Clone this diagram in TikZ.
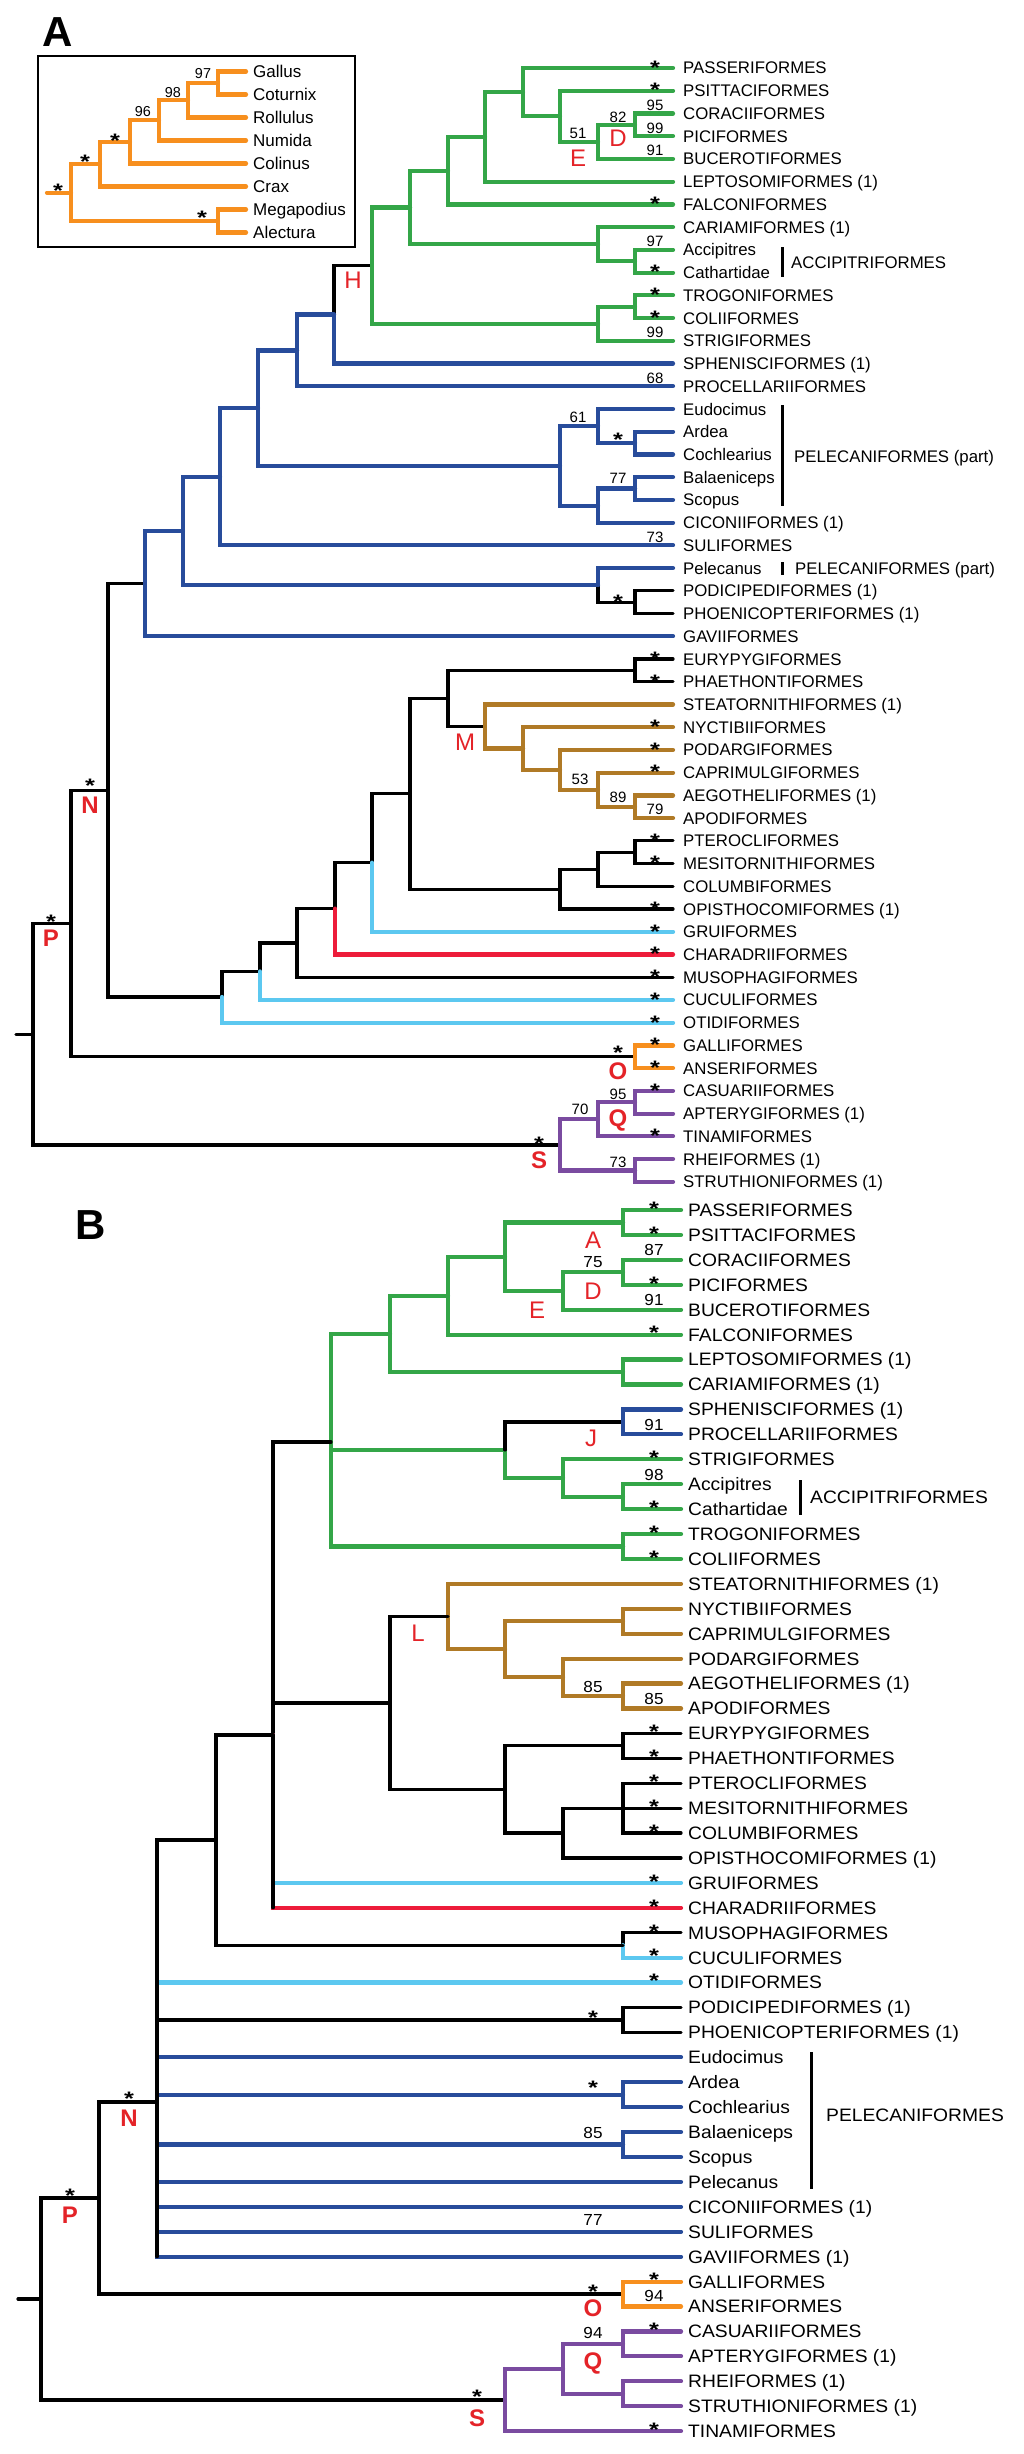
\documentclass[tikz,border=0pt]{standalone}
\usepackage{fontspec}
\setmainfont{Liberation Sans}
\newfontfamily\widefont[FakeStretch=1.07]{Liberation Sans}
\newfontfamily\astfam[FakeStretch=1.3]{Liberation Sans}

\definecolor{cgreen}{RGB}{52,166,72}
\definecolor{cblue}{RGB}{40,76,155}
\definecolor{corange}{RGB}{247,143,30}
\definecolor{cbrown}{RGB}{176,122,38}
\definecolor{clight}{RGB}{92,200,240}
\definecolor{cred}{RGB}{237,28,58}
\definecolor{cpurple}{RGB}{122,75,160}
\definecolor{labred}{RGB}{228,35,40}

\newcommand{\labA}{\fontsize{16.8}{17}\selectfont}
\newcommand{\labB}{\widefont\fontsize{18}{18}\selectfont}
\newcommand{\numA}{\fontsize{15}{15}\selectfont}
\newcommand{\numB}{\widefont\fontsize{16}{16}\selectfont}
\newcommand{\astfont}{\astfam\bfseries\fontsize{19.5}{19.5}\selectfont}
% asterisk lowered so that its box is the glyph only
\newcommand{\aster}{\raisebox{-7.9pt}[6.8pt][0pt]{*}}

\tikzset{
    branch/.style={line width=4.2pt, line cap=round},
    grn/.style={branch, draw=cgreen},
    blu/.style={branch, draw=cblue},
    org/.style={branch, draw=corange},
    brn/.style={branch, draw=cbrown},
    lbl/.style={branch, draw=clight},
    rdd/.style={branch, draw=cred},
    pur/.style={branch, draw=cpurple},
    blk/.style={line width=3.2pt, line cap=round, draw=black},
    brk/.style={line width=3pt, draw=black},
    leafA/.style={anchor=west, font=\labA, inner xsep=10pt, inner ysep=0pt, text height=12pt, text depth=0pt},
    leafB/.style={anchor=west, font=\labB, inner xsep=7pt, inner ysep=0pt, text height=12.9pt, text depth=0pt},
    leafI/.style={anchor=west, font=\fontsize{17}{17}\selectfont, inner xsep=7pt, inner ysep=0pt, text height=12.2pt, text depth=0pt},
    brkA/.style={anchor=west, font=\labA, inner sep=0pt, text height=12pt, text depth=0pt},
    brkB/.style={anchor=west, font=\labB, inner sep=0pt, text height=12.9pt, text depth=0pt},
    supA/.style={font=\numA, inner sep=0pt, text height=10.7pt, text depth=0pt},
    supB/.style={font=\numB, inner sep=0pt, text height=11.5pt, text depth=0pt},
    supI/.style={font=\fontsize{14.4}{14.4}\selectfont, inner sep=0pt, text height=10.3pt, text depth=0pt},
    astA/.style={font=\astfont, inner sep=0pt},
    astB/.style={font=\astfont, inner sep=0pt},
    clade/.style={text=labred, font=\fontsize{24}{24}\selectfont, inner sep=0pt, text height=17.2pt, text depth=0pt},
    cladebf/.style={clade, font=\fontsize{24}{24}\selectfont\bfseries},
    panel/.style={font=\fontsize{42}{42}\selectfont\bfseries, inner sep=0pt, text height=30pt, text depth=0pt}
}

\begin{document}
\begin{tikzpicture}[x=1pt, y=-1pt]
    \path[use as bounding box, fill=white] (0,0) rectangle (1024,2454);

    % Panel letters
    \node[panel] at (58, 32) (labA) {A};
    \node[panel] at (91, 1224) (labB) {B};

    % ---------------- Inset (Galliformes) ----------------
    \coordinate (boxNW) at (38, 56);
    \coordinate (boxSE) at (355, 247);
    \draw[line width=1.5pt] (boxNW) rectangle (boxSE);

    \node[leafI] at (246, 71.5) (iGall) {Gallus};
    \node[leafI] at (246, 94.5) (iCotu) {Coturnix};
    \node[leafI] at (246, 117.5) (iRoll) {Rollulus};
    \node[leafI] at (246, 140.5) (iNumi) {Numida};
    \node[leafI] at (246, 163.5) (iColi) {Colinus};
    \node[leafI] at (246, 186.5) (iCrax) {Crax};
    \node[leafI] at (246, 209.5) (iMega) {Megapodius};
    \node[leafI] at (246, 232.5) (iAlec) {Alectura};

    \coordinate (in1) at (218, 83);
    \coordinate (in2) at (188, 100.3);
    \coordinate (in3) at (159, 120.4);
    \coordinate (in4) at (130, 141.9);
    \coordinate (in5) at (100, 164.2);
    \coordinate (in6) at (218, 221);
    \coordinate (in7) at (71, 192.6);
    \coordinate (istub) at (47, 192.6);

    \draw[org] (in1) |- (iGall) (in1) |- (iCotu);
    \draw[org] (in2) |- (in1) (in2) |- (iRoll);
    \draw[org] (in3) |- (in2) (in3) |- (iNumi);
    \draw[org] (in4) |- (in3) (in4) |- (iColi);
    \draw[org] (in5) |- (in4) (in5) |- (iCrax);
    \draw[org] (in6) |- (iMega) (in6) |- (iAlec);
    \draw[org] (in7) |- (in5) (in7) |- (in6);
    \draw[org] (istub) -- (in7);

    \node[supI] at (203, 73) (viGall) {97};
    \node[supI] at (173, 92) (viRoll) {98};
    \node[supI] at (143, 111) (viNumi) {96};
    \node[astA] at (115, 136) (xiColi) {\aster};
    \node[astA] at (85, 157) (xiCrax) {\aster};
    \node[astA] at (58, 186) (xiRoot) {\aster};
    \node[astA] at (202, 213) (xiMega) {\aster};

    % ---------------- Panel A ----------------
    % Leaves
    \node[leafA] at (673, 68.0) (aPass) {PASSERIFORMES};
    \node[leafA] at (673, 90.7) (aPsit) {PSITTACIFORMES};
    \node[leafA] at (673, 113.5) (aCora) {CORACIIFORMES};
    \node[leafA] at (673, 136.2) (aPici) {PICIFORMES};
    \node[leafA] at (673, 158.9) (aBuce) {BUCEROTIFORMES};
    \node[leafA] at (673, 181.7) (aLept) {LEPTOSOMIFORMES (1)};
    \node[leafA] at (673, 204.4) (aFalc) {FALCONIFORMES};
    \node[leafA] at (673, 227.1) (aCari) {CARIAMIFORMES (1)};
    \node[leafA] at (673, 249.8) (aAcci) {Accipitres};
    \node[leafA] at (673, 272.6) (aCath) {Cathartidae};
    \node[leafA] at (673, 295.3) (aTrog) {TROGONIFORMES};
    \node[leafA] at (673, 318.0) (aColi) {COLIIFORMES};
    \node[leafA] at (673, 340.8) (aStri) {STRIGIFORMES};
    \node[leafA] at (673, 363.5) (aSphe) {SPHENISCIFORMES (1)};
    \node[leafA] at (673, 386.2) (aProc) {PROCELLARIIFORMES};
    \node[leafA] at (673, 409.0) (aEudo) {Eudocimus};
    \node[leafA] at (673, 431.7) (aArde) {Ardea};
    \node[leafA] at (673, 454.4) (aCoch) {Cochlearius};
    \node[leafA] at (673, 477.1) (aBala) {Balaeniceps};
    \node[leafA] at (673, 499.9) (aScop) {Scopus};
    \node[leafA] at (673, 522.6) (aCico) {CICONIIFORMES (1)};
    \node[leafA] at (673, 545.3) (aSuli) {SULIFORMES};
    \node[leafA] at (673, 568.1) (aPele) {Pelecanus};
    \node[leafA] at (673, 590.8) (aPodi) {PODICIPEDIFORMES (1)};
    \node[leafA] at (673, 613.5) (aPhoe) {PHOENICOPTERIFORMES (1)};
    \node[leafA] at (673, 636.3) (aGavi) {GAVIIFORMES};
    \node[leafA] at (673, 659.0) (aEury) {EURYPYGIFORMES};
    \node[leafA] at (673, 681.7) (aPhae) {PHAETHONTIFORMES};
    \node[leafA] at (673, 704.4) (aStea) {STEATORNITHIFORMES (1)};
    \node[leafA] at (673, 727.2) (aNyct) {NYCTIBIIFORMES};
    \node[leafA] at (673, 749.9) (aPoda) {PODARGIFORMES};
    \node[leafA] at (673, 772.6) (aCapr) {CAPRIMULGIFORMES};
    \node[leafA] at (673, 795.4) (aAego) {AEGOTHELIFORMES (1)};
    \node[leafA] at (673, 818.1) (aApod) {APODIFORMES};
    \node[leafA] at (673, 840.8) (aPter) {PTEROCLIFORMES};
    \node[leafA] at (673, 863.6) (aMesi) {MESITORNITHIFORMES};
    \node[leafA] at (673, 886.3) (aColu) {COLUMBIFORMES};
    \node[leafA] at (673, 909.0) (aOpis) {OPISTHOCOMIFORMES (1)};
    \node[leafA] at (673, 931.7) (aGrui) {GRUIFORMES};
    \node[leafA] at (673, 954.5) (aChar) {CHARADRIIFORMES};
    \node[leafA] at (673, 977.2) (aMuso) {MUSOPHAGIFORMES};
    \node[leafA] at (673, 999.9) (aCucu) {CUCULIFORMES};
    \node[leafA] at (673, 1022.7) (aOtid) {OTIDIFORMES};
    \node[leafA] at (673, 1045.4) (aGall) {GALLIFORMES};
    \node[leafA] at (673, 1068.1) (aAnse) {ANSERIFORMES};
    \node[leafA] at (673, 1090.9) (aCasu) {CASUARIIFORMES};
    \node[leafA] at (673, 1113.6) (aApte) {APTERYGIFORMES (1)};
    \node[leafA] at (673, 1136.3) (aTina) {TINAMIFORMES};
    \node[leafA] at (673, 1159.0) (aRhei) {RHEIFORMES (1)};
    \node[leafA] at (673, 1181.8) (aStru) {STRUTHIONIFORMES (1)};

    % Internal nodes
    \coordinate (an1) at (523, 92.2);
    \coordinate (an2) at (560, 116.3);
    \coordinate (anE) at (598, 141.9);
    \coordinate (anD) at (635, 124.9);
    \coordinate (an3) at (485, 137.0);
    \coordinate (an4) at (448, 170.7);
    \coordinate (an5) at (598, 244.2);
    \coordinate (an6) at (635, 261.2);
    \coordinate (an7) at (410, 207.4);
    \coordinate (an8) at (635, 306.7);
    \coordinate (an9) at (598, 323.8);
    \coordinate (anH) at (372, 265.6);
    \coordinate (an10) at (334, 314.5);
    \coordinate (an11) at (297, 350.4);
    \coordinate (an12) at (635, 443.1);
    \coordinate (an13) at (598, 426.0);
    \coordinate (an14) at (635, 488.5);
    \coordinate (an15) at (598, 505.6);
    \coordinate (an16) at (560, 465.8);
    \coordinate (an17) at (258, 408.1);
    \coordinate (an18) at (220, 476.7);
    \coordinate (an19) at (635, 602.2);
    \coordinate (an20) at (598, 585.1);
    \coordinate (an21) at (183, 530.9);
    \coordinate (an22) at (145, 583.6);
    \coordinate (an23) at (635, 670.4);
    \coordinate (an24) at (635, 806.7);
    \coordinate (an25) at (598, 789.7);
    \coordinate (an26) at (560, 769.8);
    \coordinate (an27) at (523, 748.5);
    \coordinate (anM) at (485, 726.5);
    \coordinate (an28) at (448, 698.4);
    \coordinate (an29) at (635, 852.2);
    \coordinate (an30) at (598, 869.2);
    \coordinate (an31) at (560, 889.1);
    \coordinate (an32) at (410, 793.8);
    \coordinate (an33) at (372, 862.7);
    \coordinate (an34) at (335, 908.6);
    \coordinate (an35) at (297, 942.9);
    \coordinate (an36) at (260, 971.4);
    \coordinate (an37) at (222, 997.0);
    \coordinate (anN) at (108, 790.3);
    \coordinate (anO) at (635, 1056.8);
    \coordinate (anP) at (71, 923.5);
    \coordinate (an38) at (635, 1102.2);
    \coordinate (anQ) at (598, 1119.3);
    \coordinate (an39) at (635, 1170.4);
    \coordinate (anS) at (560, 1144.9);
    \coordinate (anR) at (33, 1034.2);
    \coordinate (aroot) at (16, 1034.2);

    % Edges
    \draw[blk] (an10) |- (anH);
    \draw[blk] (an20) |- (an19) (an19) |- (aPodi) (an19) |- (aPhoe);
    \draw[blk] (anN) |- (an22) (anN) |- (an37);
    \draw[blk] (an23) |- (aEury) (an23) |- (aPhae) (an28) |- (an23) (an28) |- (anM);
    \draw[blk] (an29) |- (aPter) (an29) |- (aMesi) (an30) |- (an29) (an30) |- (aColu);
    \draw[blk] (an31) |- (an30) (an31) |- (aOpis) (an32) |- (an28) (an32) |- (an31);
    \draw[blk] (an33) |- (an32) (an34) |- (an33) (an35) |- (an34) (an35) |- (aMuso);
    \draw[blk] (an36) |- (an35) (an37) |- (an36);
    \draw[blk] (anP) |- (anN) (anP) |- (anO) (anR) |- (anP) (anR) |- (anS) (aroot) -- (anR);

    \draw[grn] (an1) |- (aPass) (an1) |- (an2) (an2) |- (aPsit) (an2) |- (anE);
    \draw[grn] (anE) |- (anD) (anE) |- (aBuce) (anD) |- (aCora) (anD) |- (aPici);
    \draw[grn] (an3) |- (an1) (an3) |- (aLept) (an4) |- (an3) (an4) |- (aFalc);
    \draw[grn] (an5) |- (aCari) (an5) |- (an6) (an6) |- (aAcci) (an6) |- (aCath);
    \draw[grn] (an7) |- (an4) (an7) |- (an5) (an8) |- (aTrog) (an8) |- (aColi);
    \draw[grn] (an9) |- (an8) (an9) |- (aStri) (anH) |- (an7) (anH) |- (an9);

    \draw[blu] (an10) |- (aSphe) (an11) |- (an10) (an11) |- (aProc);
    \draw[blu] (an12) |- (aArde) (an12) |- (aCoch) (an13) |- (aEudo) (an13) |- (an12);
    \draw[blu] (an14) |- (aBala) (an14) |- (aScop) (an15) |- (an14) (an15) |- (aCico);
    \draw[blu] (an16) |- (an13) (an16) |- (an15) (an17) |- (an11) (an17) |- (an16);
    \draw[blu] (an18) |- (an17) (an18) |- (aSuli) (an20) |- (aPele);
    \draw[blu] (an21) |- (an18) (an21) |- (an20) (an22) |- (an21) (an22) |- (aGavi);

    \draw[brn] (anM) |- (aStea) (anM) |- (an27) (an27) |- (aNyct) (an27) |- (an26);
    \draw[brn] (an26) |- (aPoda) (an26) |- (an25) (an25) |- (aCapr) (an25) |- (an24);
    \draw[brn] (an24) |- (aAego) (an24) |- (aApod);

    \draw[lbl] (an33) |- (aGrui) (an36) |- (aCucu) (an37) |- (aOtid);
    \draw[rdd] (an34) |- (aChar);
    \draw[org] (anO) |- (aGall) (anO) |- (aAnse);
    \draw[pur] (anS) |- (anQ) (anS) |- (an39) (anQ) |- (an38) (anQ) |- (aTina);
    \draw[pur] (an38) |- (aCasu) (an38) |- (aApte) (an39) |- (aRhei) (an39) |- (aStru);

    % Brackets
    \coordinate (kaAccT) at (782, 247);
    \coordinate (kaAccB) at (782, 277);
    \coordinate (kaPelT) at (782, 405);
    \coordinate (kaPelB) at (782, 506);
    \coordinate (kaPlcT) at (782, 562);
    \coordinate (kaPlcB) at (782, 575);
    \draw[brk] (kaAccT) -- (kaAccB) (kaPelT) -- (kaPelB) (kaPlcT) -- (kaPlcB);
    \node[brkA] at (791, 262) (gaAcc) {ACCIPITRIFORMES};
    \node[brkA] at (794, 456) (gaPel) {PELECANIFORMES (part)};
    \node[brkA] at (795, 568) (gaPlc) {PELECANIFORMES (part)};

    % Support values
    \node[supA] at (655, 105.0) (vaCora) {95};
    \node[supA] at (655, 128.0) (vaPici) {99};
    \node[supA] at (655, 150.5) (vaBuce) {91};
    \node[supA] at (655, 241.0) (vaAcci) {97};
    \node[supA] at (655, 332.0) (vaStri) {99};
    \node[supA] at (655, 378.0) (vaProc) {68};
    \node[supA] at (655, 537.0) (vaSuli) {73};
    \node[supA] at (655, 809.0) (vaApod) {79};
    \node[supA] at (578, 133) (vaE) {51};
    \node[supA] at (618, 117) (vaD) {82};
    \node[supA] at (578, 417) (va13) {61};
    \node[supA] at (618, 478) (va14) {77};
    \node[supA] at (580, 779) (va26) {53};
    \node[supA] at (618, 797) (va24) {89};
    \node[supA] at (618, 1094) (va38) {95};
    \node[supA] at (580, 1109) (vaQ) {70};
    \node[supA] at (618, 1162) (va39) {73};

    \node[astA] at (655, 63.0) (xaPass) {\aster};
    \node[astA] at (655, 85.7) (xaPsit) {\aster};
    \node[astA] at (655, 199.4) (xaFalc) {\aster};
    \node[astA] at (655, 267.6) (xaCath) {\aster};
    \node[astA] at (655, 290.3) (xaTrog) {\aster};
    \node[astA] at (655, 313.0) (xaColi) {\aster};
    \node[astA] at (655, 654.0) (xaEury) {\aster};
    \node[astA] at (655, 676.7) (xaPhae) {\aster};
    \node[astA] at (655, 722.2) (xaNyct) {\aster};
    \node[astA] at (655, 744.9) (xaPoda) {\aster};
    \node[astA] at (655, 767.6) (xaCapr) {\aster};
    \node[astA] at (655, 835.8) (xaPter) {\aster};
    \node[astA] at (655, 858.6) (xaMesi) {\aster};
    \node[astA] at (655, 904.0) (xaOpis) {\aster};
    \node[astA] at (655, 926.7) (xaGrui) {\aster};
    \node[astA] at (655, 949.5) (xaChar) {\aster};
    \node[astA] at (655, 972.2) (xaMuso) {\aster};
    \node[astA] at (655, 994.9) (xaCucu) {\aster};
    \node[astA] at (655, 1017.7) (xaOtid) {\aster};
    \node[astA] at (655, 1040.4) (xaGall) {\aster};
    \node[astA] at (655, 1063.1) (xaAnse) {\aster};
    \node[astA] at (655, 1085.9) (xaCasu) {\aster};
    \node[astA] at (655, 1131.3) (xaTina) {\aster};
    \node[astA] at (618, 435) (xa12) {\aster};
    \node[astA] at (618, 597) (xa19) {\aster};
    \node[astA] at (90, 781.5) (xaN) {\aster};
    \node[astA] at (51, 917) (xaP) {\aster};
    \node[astA] at (618, 1048.5) (xaO) {\aster};
    \node[astA] at (539, 1139) (xaS) {\aster};

    % Clade letters
    \node[clade] at (578, 158) (caE) {E};
    \node[clade] at (618, 138) (caD) {D};
    \node[clade] at (353, 280) (caH) {H};
    \node[clade] at (465, 742) (caM) {M};
    \node[cladebf] at (90, 805) (caN) {N};
    \node[cladebf] at (51, 938) (caP) {P};
    \node[cladebf] at (618, 1070.5) (caO) {O};
    \node[cladebf] at (618, 1118) (caQ) {Q};
    \node[cladebf] at (539, 1160) (caS) {S};

    % ---------------- Panel B ----------------
    % Leaves
    \node[leafB] at (681, 1210.0) (bPass) {PASSERIFORMES};
    \node[leafB] at (681, 1234.9) (bPsit) {PSITTACIFORMES};
    \node[leafB] at (681, 1259.8) (bCora) {CORACIIFORMES};
    \node[leafB] at (681, 1284.8) (bPici) {PICIFORMES};
    \node[leafB] at (681, 1309.7) (bBuce) {BUCEROTIFORMES};
    \node[leafB] at (681, 1334.6) (bFalc) {FALCONIFORMES};
    \node[leafB] at (681, 1359.5) (bLept) {LEPTOSOMIFORMES (1)};
    \node[leafB] at (681, 1384.4) (bCari) {CARIAMIFORMES (1)};
    \node[leafB] at (681, 1409.4) (bSphe) {SPHENISCIFORMES (1)};
    \node[leafB] at (681, 1434.3) (bProc) {PROCELLARIIFORMES};
    \node[leafB] at (681, 1459.2) (bStri) {STRIGIFORMES};
    \node[leafB] at (681, 1484.1) (bAcci) {Accipitres};
    \node[leafB] at (681, 1509.0) (bCath) {Cathartidae};
    \node[leafB] at (681, 1534.0) (bTrog) {TROGONIFORMES};
    \node[leafB] at (681, 1558.9) (bColi) {COLIIFORMES};
    \node[leafB] at (681, 1583.8) (bStea) {STEATORNITHIFORMES (1)};
    \node[leafB] at (681, 1608.7) (bNyct) {NYCTIBIIFORMES};
    \node[leafB] at (681, 1633.6) (bCapr) {CAPRIMULGIFORMES};
    \node[leafB] at (681, 1658.6) (bPoda) {PODARGIFORMES};
    \node[leafB] at (681, 1683.5) (bAego) {AEGOTHELIFORMES (1)};
    \node[leafB] at (681, 1708.4) (bApod) {APODIFORMES};
    \node[leafB] at (681, 1733.3) (bEury) {EURYPYGIFORMES};
    \node[leafB] at (681, 1758.2) (bPhae) {PHAETHONTIFORMES};
    \node[leafB] at (681, 1783.2) (bPter) {PTEROCLIFORMES};
    \node[leafB] at (681, 1808.1) (bMesi) {MESITORNITHIFORMES};
    \node[leafB] at (681, 1833.0) (bColu) {COLUMBIFORMES};
    \node[leafB] at (681, 1857.9) (bOpis) {OPISTHOCOMIFORMES (1)};
    \node[leafB] at (681, 1882.8) (bGrui) {GRUIFORMES};
    \node[leafB] at (681, 1907.8) (bChar) {CHARADRIIFORMES};
    \node[leafB] at (681, 1932.7) (bMuso) {MUSOPHAGIFORMES};
    \node[leafB] at (681, 1957.6) (bCucu) {CUCULIFORMES};
    \node[leafB] at (681, 1982.5) (bOtid) {OTIDIFORMES};
    \node[leafB] at (681, 2007.4) (bPodi) {PODICIPEDIFORMES (1)};
    \node[leafB] at (681, 2032.4) (bPhoe) {PHOENICOPTERIFORMES (1)};
    \node[leafB] at (681, 2057.3) (bEudo) {Eudocimus};
    \node[leafB] at (681, 2082.2) (bArde) {Ardea};
    \node[leafB] at (681, 2107.1) (bCoch) {Cochlearius};
    \node[leafB] at (681, 2132.0) (bBala) {Balaeniceps};
    \node[leafB] at (681, 2157.0) (bScop) {Scopus};
    \node[leafB] at (681, 2181.9) (bPele) {Pelecanus};
    \node[leafB] at (681, 2206.8) (bCico) {CICONIIFORMES (1)};
    \node[leafB] at (681, 2231.7) (bSuli) {SULIFORMES};
    \node[leafB] at (681, 2256.6) (bGavi) {GAVIIFORMES (1)};
    \node[leafB] at (681, 2281.6) (bGall) {GALLIFORMES};
    \node[leafB] at (681, 2306.5) (bAnse) {ANSERIFORMES};
    \node[leafB] at (681, 2331.4) (bCasu) {CASUARIIFORMES};
    \node[leafB] at (681, 2356.3) (bApte) {APTERYGIFORMES (1)};
    \node[leafB] at (681, 2381.2) (bRhei) {RHEIFORMES (1)};
    \node[leafB] at (681, 2406.2) (bStru) {STRUTHIONIFORMES (1)};
    \node[leafB] at (681, 2431.1) (bTina) {TINAMIFORMES};

    % Internal nodes
    \coordinate (bnA) at (623, 1222.5);
    \coordinate (bnD) at (623, 1272.3);
    \coordinate (bnE) at (563, 1291.0);
    \coordinate (bn1) at (505, 1256.7);
    \coordinate (bn2) at (448, 1295.7);
    \coordinate (bn3) at (623, 1372.0);
    \coordinate (bn4) at (390, 1333.8);
    \coordinate (bn5) at (623, 1421.9);
    \coordinate (bn6) at (623, 1496.6);
    \coordinate (bn7) at (563, 1477.9);
    \coordinate (bnJ) at (505, 1449.9);
    \coordinate (bn8) at (623, 1546.5);
    \coordinate (bn9) at (331, 1442.0);
    \coordinate (bn10) at (623, 1621.2);
    \coordinate (bn11) at (623, 1696.0);
    \coordinate (bn12) at (563, 1677.3);
    \coordinate (bn13) at (505, 1649.2);
    \coordinate (bnL) at (448, 1616.5);
    \coordinate (bn14) at (623, 1745.8);
    \coordinate (bn15) at (623, 1808.1);
    \coordinate (bn16) at (563, 1833.0);
    \coordinate (bn17) at (505, 1789.4);
    \coordinate (bn18) at (390, 1703.0);
    \coordinate (bn19) at (273, 1735.0);
    \coordinate (bn20) at (623, 1945.2);
    \coordinate (bn21) at (216, 1840.0);
    \coordinate (bn22) at (623, 2019.9);
    \coordinate (bn23) at (623, 2094.7);
    \coordinate (bn24) at (623, 2144.5);
    \coordinate (bnN) at (157, 2102.0);
    \coordinate (bnO) at (623, 2294.0);
    \coordinate (bnP) at (99, 2198.0);
    \coordinate (bn26) at (623, 2343.9);
    \coordinate (bn27) at (623, 2393.7);
    \coordinate (bnQ) at (563, 2368.8);
    \coordinate (bnS) at (505, 2400.0);
    \coordinate (bnR) at (41, 2299.0);
    \coordinate (broot) at (18, 2299.0);

    % Edges
    \draw[grn] (bnA) |- (bPass) (bnA) |- (bPsit) (bnD) |- (bCora) (bnD) |- (bPici);
    \draw[grn] (bnE) |- (bnD) (bnE) |- (bBuce) (bn1) |- (bnA) (bn1) |- (bnE);
    \draw[grn] (bn2) |- (bn1) (bn2) |- (bFalc) (bn3) |- (bLept) (bn3) |- (bCari);
    \draw[grn] (bn4) |- (bn2) (bn4) |- (bn3) (bn6) |- (bAcci) (bn6) |- (bCath);
    \draw[grn] (bn7) |- (bStri) (bn7) |- (bn6) (bnJ) |- (bn7);
    \draw[grn] (bn8) |- (bTrog) (bn8) |- (bColi) (bn9) |- (bn4) (bn9) |- (bnJ) (bn9) |- (bn8);
    \draw[blk] (bnJ) |- (bn5);
    \draw[blu] (bn5) |- (bSphe) (bn5) |- (bProc);

    \draw[brn] (bn10) |- (bNyct) (bn10) |- (bCapr) (bn11) |- (bAego) (bn11) |- (bApod);
    \draw[brn] (bn12) |- (bPoda) (bn12) |- (bn11) (bn13) |- (bn10) (bn13) |- (bn12);
    \draw[brn] (bnL) |- (bStea) (bnL) |- (bn13);

    \draw[blk] (bn14) |- (bEury) (bn14) |- (bPhae) (bn15) |- (bPter) (bn15) |- (bMesi) (bn15) |- (bColu);
    \draw[blk] (bn16) |- (bn15) (bn16) |- (bOpis) (bn17) |- (bn14) (bn17) |- (bn16);
    \draw[blk] (bn18) |- (bnL) (bn18) |- (bn17) (bn19) |- (bn9) (bn19) |- (bn18);
    \draw[lbl] (bn19) |- (bGrui);
    \draw[rdd] (bn19) |- (bChar);
    \draw[blk] (bn19) -- (bn19 |- bChar);

    \draw[blk] (bn20) |- (bMuso);
    \draw[lbl] (bn20) |- (bCucu);
    \draw[blk] (bn21) |- (bn19) (bn21) |- (bn20);

    \draw[lbl] (bnN) |- (bOtid);
    \draw[blk] (bnN) |- (bn21) (bnN) |- (bn22) (bn22) |- (bPodi) (bn22) |- (bPhoe);
    \draw[blu] (bnN) |- (bEudo) (bnN) |- (bn23) (bn23) |- (bArde) (bn23) |- (bCoch);
    \draw[blu] (bnN) |- (bn24) (bn24) |- (bBala) (bn24) |- (bScop);
    \draw[blu] (bnN) |- (bPele) (bnN) |- (bCico) (bnN) |- (bSuli) (bnN) |- (bGavi);
    \draw[blk] (bnN |- bn21) -- (bnN |- bGavi);

    \draw[blk] (bnP) |- (bnN) (bnP) |- (bnO) (bnR) |- (bnP) (bnR) |- (bnS) (broot) -- (bnR);
    \draw[org] (bnO) |- (bGall) (bnO) |- (bAnse);
    \draw[pur] (bnS) |- (bnQ) (bnS) |- (bTina) (bnQ) |- (bn26) (bnQ) |- (bn27);
    \draw[pur] (bn26) |- (bCasu) (bn26) |- (bApte) (bn27) |- (bRhei) (bn27) |- (bStru);

    % Brackets
    \coordinate (kbAccT) at (800, 1480);
    \coordinate (kbAccB) at (800, 1515);
    \coordinate (kbPelT) at (811, 2052);
    \coordinate (kbPelB) at (811, 2189);
    \draw[brk] (kbAccT) -- (kbAccB) (kbPelT) -- (kbPelB);
    \node[brkB] at (810, 1497) (gbAcc) {ACCIPITRIFORMES};
    \node[brkB] at (826, 2115) (gbPel) {PELECANIFORMES};

    % Support values
    \node[supB] at (654, 1250) (vbCora) {87};
    \node[supB] at (654, 1300) (vbBuce) {91};
    \node[supB] at (654, 1425) (vb5) {91};
    \node[supB] at (654, 1475) (vbAcci) {98};
    \node[supB] at (654, 1699) (vb11) {85};
    \node[supB] at (654, 2296) (vbO) {94};
    \node[supB] at (593, 1262) (vbD) {75};
    \node[supB] at (593, 1687) (vb12) {85};
    \node[supB] at (593, 2133) (vb24) {85};
    \node[supB] at (593, 2220) (vbSuli) {77};
    \node[supB] at (593, 2333) (vb26) {94};

    \node[astB] at (654, 1204.0) (xbPass) {\aster};
    \node[astB] at (654, 1228.9) (xbPsit) {\aster};
    \node[astB] at (654, 1278.8) (xbPici) {\aster};
    \node[astB] at (654, 1328.6) (xbFalc) {\aster};
    \node[astB] at (654, 1453.2) (xbStri) {\aster};
    \node[astB] at (654, 1503.0) (xbCath) {\aster};
    \node[astB] at (654, 1528.0) (xbTrog) {\aster};
    \node[astB] at (654, 1552.9) (xbColi) {\aster};
    \node[astB] at (654, 1727.3) (xbEury) {\aster};
    \node[astB] at (654, 1752.2) (xbPhae) {\aster};
    \node[astB] at (654, 1777.2) (xbPter) {\aster};
    \node[astB] at (654, 1802.1) (xbMesi) {\aster};
    \node[astB] at (654, 1827.0) (xbColu) {\aster};
    \node[astB] at (654, 1876.8) (xbGrui) {\aster};
    \node[astB] at (654, 1901.8) (xbChar) {\aster};
    \node[astB] at (654, 1926.7) (xbMuso) {\aster};
    \node[astB] at (654, 1951.6) (xbCucu) {\aster};
    \node[astB] at (654, 1976.5) (xbOtid) {\aster};
    \node[astB] at (654, 2275.6) (xbGall) {\aster};
    \node[astB] at (654, 2325.4) (xbCasu) {\aster};
    \node[astB] at (654, 2425.1) (xbTina) {\aster};
    \node[astB] at (593, 2013) (xb22) {\aster};
    \node[astB] at (593, 2083) (xb23) {\aster};
    \node[astB] at (129, 2094) (xbN) {\aster};
    \node[astB] at (70, 2191) (xbP) {\aster};
    \node[astB] at (593, 2287) (xbO) {\aster};
    \node[astB] at (477, 2392) (xbS) {\aster};

    % Clade letters
    \node[clade] at (593, 1240) (cbA) {A};
    \node[clade] at (593, 1291) (cbD) {D};
    \node[clade] at (537, 1310) (cbE) {E};
    \node[clade] at (591, 1438) (cbJ) {J};
    \node[clade] at (418, 1633) (cbL) {L};
    \node[cladebf] at (129, 2118) (cbN) {N};
    \node[cladebf] at (70, 2215) (cbP) {P};
    \node[cladebf] at (593, 2308) (cbO) {O};
    \node[cladebf] at (593, 2361) (cbQ) {Q};
    \node[cladebf] at (477, 2418) (cbS) {S};
\end{tikzpicture}
\end{document}
